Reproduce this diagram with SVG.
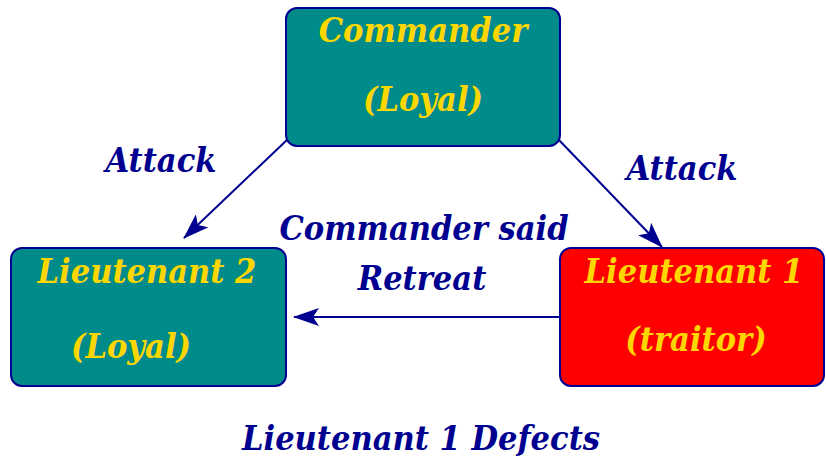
<svg xmlns="http://www.w3.org/2000/svg" width="826" height="458" viewBox="0 0 826 458">
<defs>
<style>
.box{stroke:#000090;stroke-width:2}
.loyal{fill:#008B8B}
.traitor{fill:#FF0000}
text{font-family:'DejaVu Serif Condensed','DejaVu Serif',serif;font-weight:bold;font-style:italic;font-size:34px;text-anchor:middle}
.nt{fill:#FFD700}
.lb{fill:#000090}
.edge{stroke:#000090;stroke-width:2;fill:none}
</style>
<marker id="ah" viewBox="0 0 26 18" refX="25" refY="9" markerWidth="26" markerHeight="18" markerUnits="userSpaceOnUse" orient="auto">
<path d="M0,0 L26,9 L0,18 L6,9 Z" fill="#000090"/>
</marker>
</defs>
<rect width="826" height="458" fill="#FFFFFF"/>
<g id="connectors">
<line class="edge" x1="288" y1="139" x2="184" y2="238" marker-end="url(#ah)"/>
<line class="edge" x1="558" y1="139" x2="662" y2="247" marker-end="url(#ah)"/>
<line class="edge" x1="560" y1="317" x2="294" y2="317" marker-end="url(#ah)"/>
</g>
<g id="commander">
<rect class="box loyal" x="286" y="8" width="274" height="138" rx="11"/>
<text class="nt" x="423" y="42">Commander</text>
<text class="nt" x="423" y="111">(Loyal)</text>
</g>
<g id="lieutenant2">
<rect class="box loyal" x="11" y="248" width="275" height="138" rx="11"/>
<text class="nt" x="147" y="283">Lieutenant 2</text>
<text class="nt" x="131" y="358">(Loyal)</text>
</g>
<g id="lieutenant1">
<rect class="box traitor" x="560" y="248" width="264" height="138" rx="11"/>
<text class="nt" x="694" y="283">Lieutenant 1</text>
<text class="nt" x="696" y="351">(traitor)</text>
</g>
<g id="labels">
<text class="lb" x="161" y="172">Attack</text>
<text class="lb" x="682" y="180">Attack</text>
<text class="lb" x="424" y="240">Commander said</text>
<text class="lb" x="422" y="290">Retreat</text>
<text class="lb" x="421" y="450">Lieutenant 1 Defects</text>
</g>
</svg>
